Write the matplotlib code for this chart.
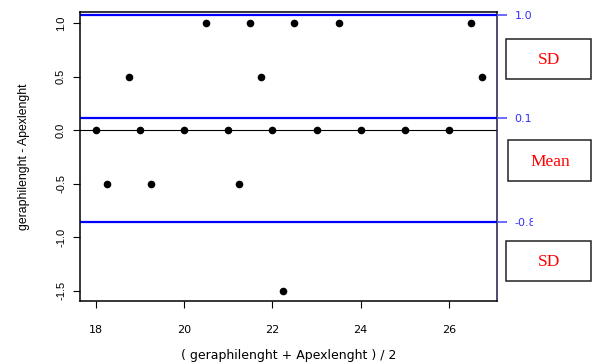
import matplotlib
matplotlib.use("Agg")
import matplotlib.pyplot as plt
from matplotlib.patches import Rectangle
from matplotlib.transforms import Bbox

# Bland-Altman data: mean of the two lengths vs their difference
avg = [18, 18.25, 18.75, 19, 19.25, 20, 20.5, 21, 21.25, 21.5, 21.75,
       22, 22.25, 22.5, 23, 23.5, 24, 25, 26, 26.5, 26.75]
diff = [0, -0.5, 0.5, 0, -0.5, 0, 1, 0, -0.5, 1, 0.5,
        0, -1.5, 1, 0, 1, 0, 0, 0, 1, 0.5]

limit_vals = [1.075, 0.112, -0.86]
limit_labels = ["1.0", "0.1", "-0.8"]
box_labels = ["SD", "Mean", "SD"]
xticks = [18, 20, 22, 24, 26]
yticks = [-1.5, -1.0, -0.5, 0.0, 0.5, 1.0]

W, H = 594, 364
fig = plt.figure(figsize=(W / 100, H / 100), dpi=100)

def px(x, y):
    return x / W, 1 - y / H

ax = fig.add_axes([80 / W, 1 - 301 / H, 417 / W, 289 / H])

ax.scatter(avg, diff, s=20, color="black", zorder=3)
ax.axhline(0, color="black", lw=0.8)
for v in limit_vals:
    ax.axhline(v, color="#0000ff", lw=1.6)

ax.set_xlim(17.64, 27.09)
ax.set_ylim(-1.594, 1.103)
ax.set_xticks(xticks)
ax.set_xticklabels([str(t) for t in xticks], fontsize=8, family="DejaVu Sans")
ax.set_yticks(yticks)
ax.set_yticklabels([f"{t:.1f}" for t in yticks], fontsize=8,
                   family="Liberation Sans", rotation=90, va="center")
ax.tick_params(axis="y", length=5, width=0.8, pad=5)
ax.tick_params(axis="x", length=5, width=0.8, pad=12)
for s in ax.spines.values():
    s.set_linewidth(1.1)
ax.spines["right"].set_color("#1a1a50")

ax.set_xlabel("( geraphilenght + Apexlenght ) / 2", fontsize=9,
              family="DejaVu Sans", labelpad=10)
ax.set_ylabel("geraphilenght - Apexlenght", fontsize=8.8,
              family="Liberation Sans", labelpad=19)

# right-side ticks for the limit lines, labels clipped at the edge
ax2 = ax.twinx()
ax2.set_ylim(ax.get_ylim())
ax2.set_yticks(limit_vals)
ax2.set_yticklabels(limit_labels, fontsize=8, family="DejaVu Sans",
                    color="#3030ff")
ax2.tick_params(length=7, width=1.2, color="#5050ff", pad=5.5)
for s in ax2.spines.values():
    s.set_visible(False)
clip = Bbox.from_extents(0, 0, 533, H)
for lab in ax2.get_yticklabels():
    lab.set_clip_box(clip)
    lab.set_clip_on(True)

# labelled boxes on the right
boxes = [(506, 39, 591, 79), (508, 140, 591, 181), (506, 241, 591, 281)]
for lab, (x0, y0, x1, y1) in zip(box_labels, boxes):
    fig.add_artist(Rectangle(px(x0, y1), (x1 - x0) / W, (y1 - y0) / H,
                             transform=fig.transFigure, fc="white",
                             ec="#222222", lw=1.1))
    fig.text(*px((x0 + x1) / 2 + 1, (y0 + y1) / 2 + 1), lab, fontsize=12.5,
             family="Liberation Serif", color="red", ha="center", va="center")

fig.savefig("out.png", dpi=100)
